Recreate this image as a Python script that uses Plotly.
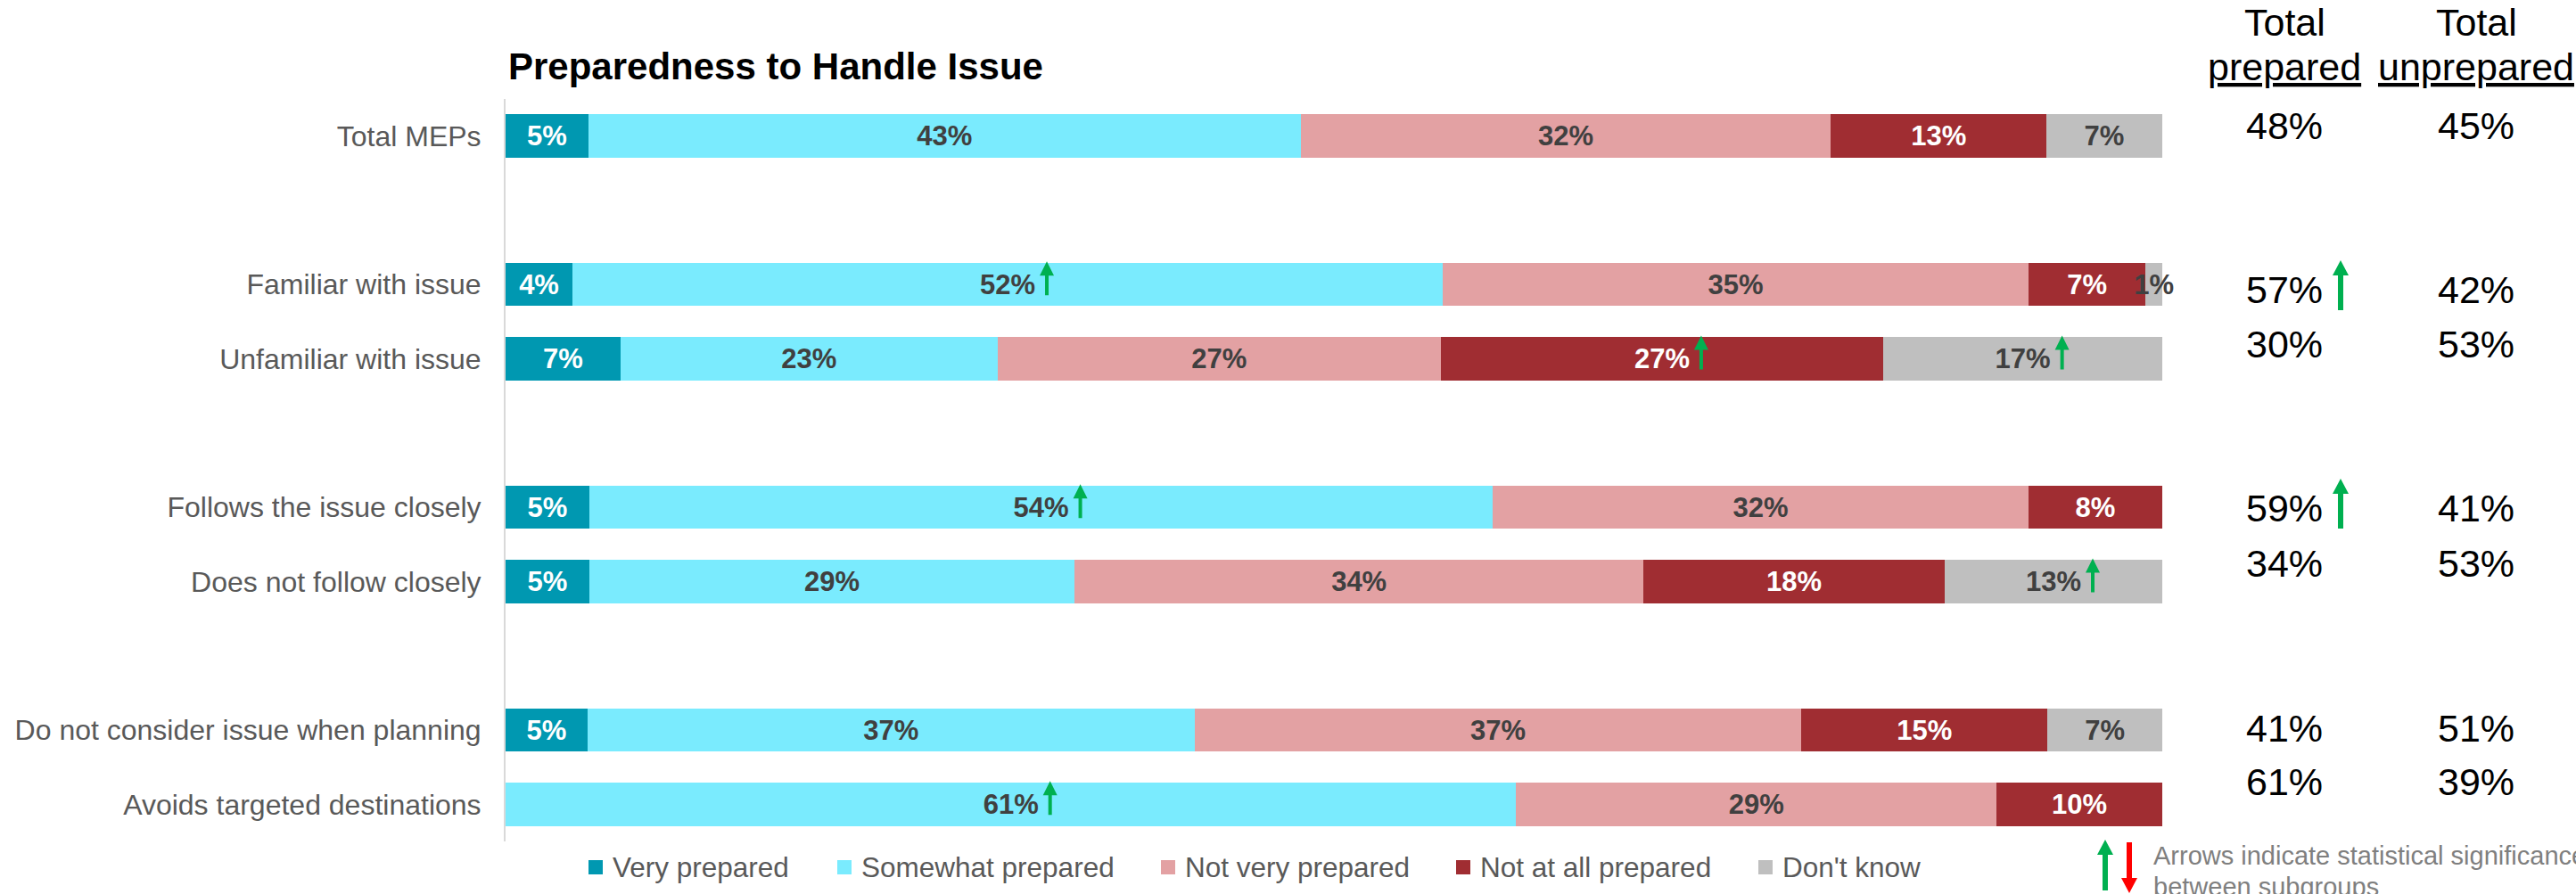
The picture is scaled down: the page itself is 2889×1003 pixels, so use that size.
import plotly.graph_objects as go

# ---- data -------------------------------------------------------------
categories = [
    "Total MEPs",
    "Familiar with issue",
    "Unfamiliar with issue",
    "Follows the issue closely",
    "Does not follow closely",
    "Do not consider issue when planning",
    "Avoids targeted destinations",
]
series_names = ["Very prepared", "Somewhat prepared", "Not very prepared",
                "Not at all prepared", "Don't know"]
very_prepared = [5, 4, 7, 5, 5, 5, None]
somewhat_prepared = [43, 52, 23, 54, 29, 37, 61]
not_very_prepared = [32, 35, 27, 32, 34, 37, 29]
not_at_all_prepared = [13, 7, 27, 8, 18, 15, 10]
dont_know = [7, 1, 17, None, 13, 7, None]

total_prepared = [48, 57, 30, 59, 34, 41, 61]
total_unprepared = [45, 42, 53, 41, 53, 51, 39]

# significant differences: (row, series) segments and rows of "Total prepared"
sig_up_segments = [(1, 1), (2, 3), (2, 4), (3, 1), (4, 4), (6, 1)]
sig_up_prepared = [1, 3]

# ---- styling / layout -------------------------------------------------
series_values = [very_prepared, somewhat_prepared, not_very_prepared,
                 not_at_all_prepared, dont_know]
colors = ["#0098B1", "#7AEBFE", "#E3A1A3", "#A02D32", "#BFBFBF"]
label_colors = ["#FFFFFF", "#404040", "#404040", "#FFFFFF", "#404040"]
FONT = "Liberation Sans, Arial, sans-serif"
GREEN, RED = "#00B050", "#FF0000"

W, H = 2889, 1003
# plot area runs a little past the 100% bar end so end labels are not clipped
L, R, T, B = 567, 422, 111, 59
PW, PH = W - L - R, H - T - B
BAR_END_PX = 2425
X_MAX = 100 * PW / (BAR_END_PX - L)
row_pos = [0, 2, 3, 5, 6, 8, 9]
table_y_px = [141, 325, 386, 570, 632, 817, 877]
col_prepared_px, col_unprepared_px = 2562, 2777


def fx(px):
    return (px - L) / PW


def fy(py):
    return (H - B - py) / PH


def up_arrow_path(tip, tail, head_h, head_w, shaft_w, dx=0):
    hw, sw = head_w / 2, shaft_w / 2
    base = tip - head_h
    return (f"M{dx - sw},{tail} L{dx + sw},{tail} L{dx + sw},{base} "
            f"L{dx + hw},{base} L{dx},{tip} L{dx - hw},{base} L{dx - sw},{base} Z")


fig = go.Figure()
for name, vals, col, lcol in zip(series_names, series_values, colors, label_colors):
    fig.add_trace(go.Bar(
        name=name,
        y=row_pos,
        x=vals,
        orientation="h",
        width=0.58,
        marker=dict(color=col, line=dict(width=0)),
        text=[f"{v}%" if v else "" for v in vals],
        textposition="inside",
        insidetextanchor="middle",
        textangle=0,
        textfont=dict(family=FONT, size=31, color=lcol, weight="bold"),
        showlegend=False,
        hoverinfo="skip",
    ))

shapes = []
annotations = []

# significance arrows inside bars, just right of the segment label
for r, s in sig_up_segments:
    vals = [sv[r] or 0 for sv in series_values]
    total = sum(vals)
    start = sum(vals[:s])
    centre = (start + vals[s] / 2) / total * 100
    shapes.append(dict(
        type="path", xref="x", yref="y", xsizemode="pixel", ysizemode="pixel",
        xanchor=centre, yanchor=row_pos[r],
        path=up_arrow_path(26, -12, 16, 16, 4, dx=44),
        fillcolor=GREEN, line=dict(width=0),
    ))

# title
annotations.append(dict(
    text="<b>Preparedness to Handle Issue</b>", xref="paper", yref="paper",
    x=fx(568), y=fy(75), xanchor="left", yanchor="middle", showarrow=False,
    font=dict(family=FONT, size=42, color="#000000"),
))

# summary columns
for cx, word in [(col_prepared_px, "prepared"), (col_unprepared_px, "unprepared")]:
    annotations.append(dict(text="Total", xref="paper", yref="paper",
                            x=fx(cx), y=fy(25), xanchor="center", yanchor="middle",
                            showarrow=False, font=dict(family=FONT, size=43, color="#000000")))
    annotations.append(dict(text=f"<u>{word}</u>", xref="paper", yref="paper",
                            x=fx(cx), y=fy(75), xanchor="center", yanchor="middle",
                            showarrow=False, font=dict(family=FONT, size=43, color="#000000")))

for i in range(len(categories)):
    for cx, v in [(col_prepared_px, total_prepared[i]), (col_unprepared_px, total_unprepared[i])]:
        annotations.append(dict(text=f"{v}%", xref="paper", yref="paper",
                                x=fx(cx), y=fy(table_y_px[i]), xanchor="center",
                                yanchor="middle", showarrow=False,
                                font=dict(family=FONT, size=43, color="#000000")))

for i in sig_up_prepared:
    shapes.append(dict(
        type="path", xref="paper", yref="paper", xsizemode="pixel", ysizemode="pixel",
        xanchor=fx(2625), yanchor=fy(table_y_px[i]),
        path=up_arrow_path(33, -23, 17, 18, 6),
        fillcolor=GREEN, line=dict(width=0),
    ))

# legend
legend_sq_px = [660, 939, 1302, 1633, 1972]
for name, col, x0 in zip(series_names, colors, legend_sq_px):
    shapes.append(dict(type="rect", xref="paper", yref="paper",
                       x0=fx(x0), x1=fx(x0 + 16), y0=fy(981), y1=fy(965),
                       fillcolor=col, line=dict(width=0)))
    annotations.append(dict(text=name, xref="paper", yref="paper",
                            x=fx(x0 + 25), y=fy(973), xanchor="left", yanchor="middle",
                            showarrow=False,
                            font=dict(family=FONT, size=31.5, color="#595959")))

# significance key
shapes.append(dict(
    type="path", xref="paper", yref="paper", xsizemode="pixel", ysizemode="pixel",
    xanchor=fx(2361), yanchor=fy(970),
    path=up_arrow_path(28, -29, 17, 18, 6),
    fillcolor=GREEN, line=dict(width=0),
))
shapes.append(dict(
    type="path", xref="paper", yref="paper", xsizemode="pixel", ysizemode="pixel",
    xanchor=fx(2388), yanchor=fy(974),
    path=up_arrow_path(28, -29, 17, 18, 6).replace(",", ",-").replace(",--", ","),
    fillcolor=RED, line=dict(width=0),
))
for txt, ypx in [("Arrows indicate statistical significance", 960),
                 ("between subgroups", 995)]:
    annotations.append(dict(text=txt, xref="paper", yref="paper",
                            x=fx(2413), y=fy(ypx), xanchor="left", yanchor="middle",
                            showarrow=False,
                            font=dict(family=FONT, size=29, color="#7F7F7F")))

fig.update_layout(
    width=W, height=H,
    margin=dict(l=L, r=R, t=T, b=B, pad=0),
    barmode="stack",
    barnorm="percent",
    paper_bgcolor="#FFFFFF",
    plot_bgcolor="#FFFFFF",
    uniformtext=dict(minsize=31, mode="show"),
    font=dict(family=FONT),
    xaxis=dict(range=[0, X_MAX], visible=False, fixedrange=True),
    yaxis=dict(
        range=[9.5, -0.5], tickvals=row_pos, ticktext=categories,
        showgrid=False, zeroline=False, showline=True,
        linecolor="#D9D9D9", linewidth=2, ticks="",
        ticklabelstandoff=19, automargin=False,
        tickfont=dict(family=FONT, size=32, color="#595959"),
    ),
    shapes=shapes,
    annotations=annotations,
)

fig.write_html("out.html")
